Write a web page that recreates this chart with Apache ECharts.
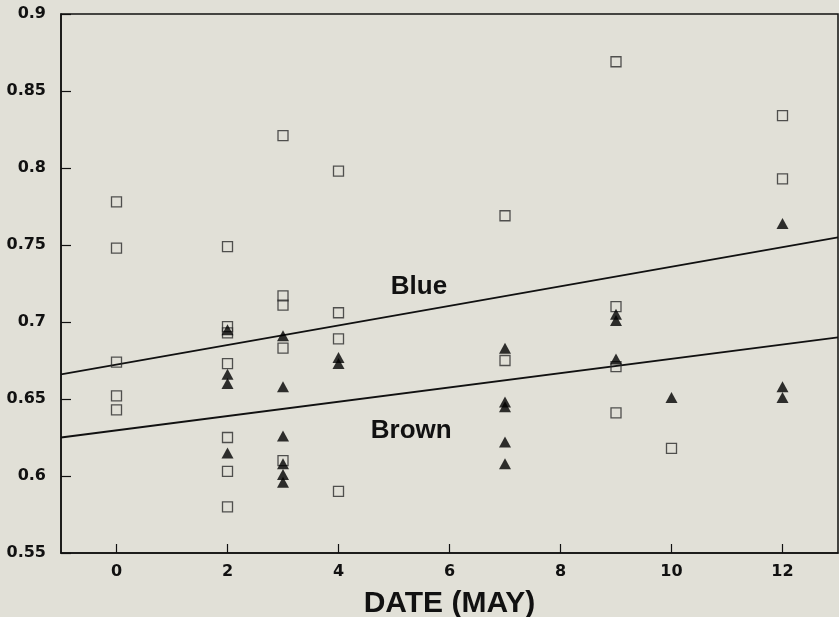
<!DOCTYPE html>
<html>
<head>
<meta charset="utf-8">
<script src="https://cdn.jsdelivr.net/npm/echarts@6/dist/echarts.min.js"></script>
<style>
  html, body { margin: 0; padding: 0; background: #e1e0d7; }
  #chart { width: 839px; height: 617px; }
</style>
</head>
<body>
<div id="chart"></div>
<script>
// Open squares: "Blue" observations, by day in May
const blueDays = [0, 0, 0, 0, 0,
  2, 2, 2, 2, 2, 2, 2,
  3, 3, 3, 3, 3,
  4, 4, 4, 4,
  7, 7,
  9, 9, 9, 9,
  10,
  12, 12];
const blueValues = [0.778, 0.748, 0.674, 0.652, 0.643,
  0.749, 0.697, 0.693, 0.673, 0.625, 0.603, 0.580,
  0.821, 0.717, 0.711, 0.683, 0.610,
  0.798, 0.706, 0.689, 0.590,
  0.769, 0.675,
  0.869, 0.710, 0.671, 0.641,
  0.618,
  0.834, 0.793];

// Filled triangles: "Brown" observations
const brownDays = [2, 2, 2, 2,
  3, 3, 3, 3, 3, 3,
  4, 4,
  7, 7, 7, 7, 7,
  9, 9, 9,
  10,
  12, 12, 12];
const brownValues = [0.695, 0.666, 0.660, 0.615,
  0.691, 0.658, 0.626, 0.608, 0.601, 0.596,
  0.677, 0.673,
  0.683, 0.648, 0.645, 0.622, 0.608,
  0.705, 0.701, 0.676,
  0.651,
  0.764, 0.658, 0.651];

// Fitted regression lines, endpoints at the axis limits
const blueFitX = [-1, 13];
const blueFitY = [0.666, 0.755];
const brownFitX = [-1, 13];
const brownFitY = [0.625, 0.690];

const xTicks = [0, 2, 4, 6, 8, 10, 12];
const xTitle = 'DATE (MAY)';

const pairs = (xs, ys) => xs.map((x, i) => [x, ys[i]]);

const tickFont = { fontFamily: 'DejaVu Sans, sans-serif', fontWeight: 'bold', color: '#111', fontSize: 16 };
const titleFont = { fontFamily: 'Liberation Sans, Arial, sans-serif', fontWeight: 'bold', color: '#111' };

const chart = echarts.init(document.getElementById('chart'), null, { renderer: 'canvas' });
chart.setOption({
  backgroundColor: '#e1e0d7',
  animation: false,
  grid: {
    left: 61, right: 1, top: 14, bottom: 64,
    containLabel: false, outerBoundsMode: 'none',
    show: true, borderColor: '#111', borderWidth: 1.5, backgroundColor: 'transparent'
  },
  xAxis: {
    type: 'value', min: -1, max: 13,
    splitLine: { show: false },
    axisLine: { onZero: false, lineStyle: { color: '#111', width: 1.5 } },
    axisTick: { inside: true, length: 9, customValues: xTicks, lineStyle: { color: '#111', width: 1.2 } },
    axisLabel: Object.assign({ customValues: xTicks, margin: 11 }, tickFont),
    name: xTitle, nameLocation: 'middle', nameGap: 36,
    nameTextStyle: Object.assign({ fontSize: 30 }, titleFont)
  },
  yAxis: {
    type: 'value', min: 0.55, max: 0.9, interval: 0.05,
    splitLine: { show: false },
    axisLine: { onZero: false, lineStyle: { color: '#111', width: 1.5 } },
    axisTick: { inside: true, length: 10, lineStyle: { color: '#111', width: 1.2 } },
    axisLabel: Object.assign({ margin: 15,
      formatter: v => String(Math.round(v * 100) / 100) }, tickFont)
  },
  series: [
    {
      name: 'Blue fit', type: 'line', data: pairs(blueFitX, blueFitY),
      symbol: 'none', lineStyle: { color: '#111', width: 1.8 }, z: 2,
      markPoint: {
        symbol: 'rect', symbolSize: 0,
        label: Object.assign({ show: true, formatter: 'Blue', fontSize: 26 }, titleFont),
        data: [{ coord: [5.45, 0.7228] }]
      }
    },
    {
      name: 'Brown fit', type: 'line', data: pairs(brownFitX, brownFitY),
      symbol: 'none', lineStyle: { color: '#111', width: 1.8 }, z: 2,
      markPoint: {
        symbol: 'rect', symbolSize: 0,
        label: Object.assign({ show: true, formatter: 'Brown', fontSize: 26 }, titleFont),
        data: [{ coord: [5.31, 0.6295] }]
      }
    },
    {
      name: 'Blue', type: 'scatter', data: pairs(blueDays, blueValues),
      symbol: 'rect', symbolSize: 10,
      itemStyle: { color: 'rgba(0,0,0,0)', borderColor: '#2a2a2a', borderWidth: 1.3 }, z: 3
    },
    {
      name: 'Brown', type: 'scatter', data: pairs(brownDays, brownValues),
      symbol: 'triangle', symbolSize: [12, 11],
      itemStyle: { color: '#000' }, z: 4
    }
  ]
});
</script>
</body>
</html>
